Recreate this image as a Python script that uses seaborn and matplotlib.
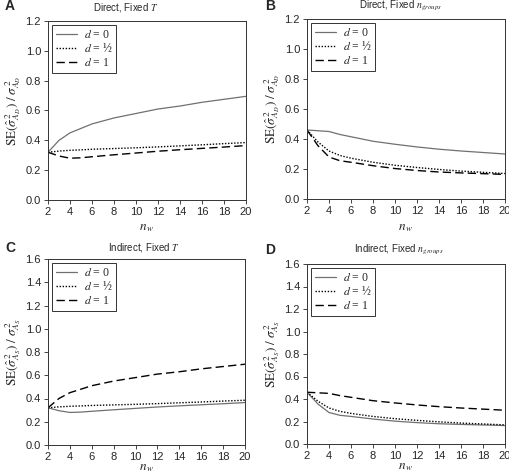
import numpy as np
import pandas as pd
import matplotlib
matplotlib.use("Agg")
import matplotlib.pyplot as plt
import seaborn as sns

sns.set_style("ticks")
plt.rcParams['font.family'] = ['Liberation Sans', 'DejaVu Sans']
plt.rcParams['mathtext.fontset'] = 'stix'

nw = [2, 3, 4, 5, 6, 8, 10, 12, 14, 16, 18, 20]

# Fixed T curves
fixT_rise = [0.32, 0.40, 0.45, 0.48, 0.51, 0.55, 0.58, 0.61, 0.63, 0.655, 0.675, 0.695]
fixT_half = [0.32, 0.328, 0.333, 0.336, 0.34, 0.345, 0.35, 0.356, 0.363, 0.37, 0.378, 0.385]
fixT_dip = [0.32, 0.295, 0.28, 0.283, 0.29, 0.303, 0.315, 0.327, 0.337, 0.346, 0.355, 0.365]

# Fixed n_groups curves
fixG_top = [0.46, 0.455, 0.45, 0.43, 0.415, 0.385, 0.365, 0.347, 0.332, 0.32, 0.31, 0.30]
fixG_half = [0.46, 0.38, 0.32, 0.29, 0.272, 0.245, 0.225, 0.21, 0.197, 0.186, 0.178, 0.17]
fixG_low = [0.46, 0.355, 0.28, 0.255, 0.245, 0.222, 0.203, 0.19, 0.18, 0.174, 0.169, 0.164]

labels = [r'$d$ = 0', r'$d$ = ½', r'$d$ = 1']
panels = [
    ("A", "Direct, Fixed $T$", r'$\mathrm{SE}(\hat{\sigma}^{\,2}_{A_D})\;/\;\sigma^{\,2}_{A_D}$',
     [fixT_rise, fixT_half, fixT_dip], 1.2),
    ("B", "Direct, Fixed $n_{groups}$", r'$\mathrm{SE}(\hat{\sigma}^{\,2}_{A_D})\;/\;\sigma^{\,2}_{A_D}$',
     [fixG_top, fixG_half, fixG_low], 1.2),
    ("C", "Indirect, Fixed $T$", r'$\mathrm{SE}(\hat{\sigma}^{\,2}_{A_S})\;/\;\sigma^{\,2}_{A_S}$',
     [fixT_dip, fixT_half, fixT_rise], 1.6),
    ("D", "Indirect, Fixed $n_{groups}$", r'$\mathrm{SE}(\hat{\sigma}^{\,2}_{A_S})\;/\;\sigma^{\,2}_{A_S}$',
     [fixG_low, fixG_half, fixG_top], 1.6),
]

fig = plt.figure(figsize=(5.1, 4.75), dpi=100)
W, H = 510, 475
boxes = [(48, 21, 246, 200), (307, 19, 505, 199), (48, 259, 245, 445), (307, 264, 505, 444)]
letter_pos = [(5, 6), (265, 6), (5, 248), (265, 250)]
title_pos = [(126, 7), (401, 6), (144, 247), (399, 250)]
xlabel_y = [228, 228, 468, 467]

colors = ['#707070', 'black', 'black']
styles = ['-', (0, (1, 1.2)), (0, (6, 3))]
widths = [0.9, 1.0, 1.0]

for (letter, title, ylab, series, ymax), (l, t, r, b), lp, tp, xy in zip(
        panels, boxes, letter_pos, title_pos, xlabel_y):
    ax = fig.add_axes([l / W, 1 - b / H, (r - l) / W, (b - t) / H])
    for s, lab, c, ls, lw in zip(series, labels, colors, styles, widths):
        df = pd.DataFrame({"nw": nw, "v": s})
        sns.lineplot(data=df, x="nw", y="v", ax=ax, color=c, linestyle=ls,
                     linewidth=lw, label=lab)
    ax.set_xlim(2, 20)
    ax.set_ylim(0, ymax)
    ax.set_xticks(range(2, 21, 2))
    yt = np.arange(0, ymax + 0.01, 0.2)
    ax.set_yticks(yt)
    ax.set_yticklabels([f"{v:.1f}" for v in yt])
    ax.tick_params(labelsize=8, length=3, width=0.6, direction='out', pad=2)
    for sp in ax.spines.values():
        sp.set_linewidth(0.7)
        sp.set_color('#333333')
    ax.set_xlabel(r'$n_{\,w}$', fontsize=9.5)
    ax.xaxis.set_label_coords(0.5, -(xy - b) / (b - t))
    ax.xaxis.label.set_va('center')
    ax.set_ylabel(ylab, fontsize=9.5, labelpad=2)
    fig.text(tp[0] / W, 1 - tp[1] / H, title, fontsize=7, ha='center', va='center')
    fig.text(lp[0] / W, 1 - lp[1] / H, letter, fontsize=10, fontweight='bold',
             ha='left', va='center')
    leg = ax.legend(loc='upper left', frameon=True, fancybox=False,
                    prop={'family': 'Liberation Serif', 'size': 8.5},
                    handlelength=1.8, borderpad=0.3, labelspacing=0.15,
                    borderaxespad=0.35, handletextpad=0.6)
    leg.get_frame().set_edgecolor('black')
    leg.get_frame().set_linewidth(0.7)

fig.savefig("out.png", dpi=100)
